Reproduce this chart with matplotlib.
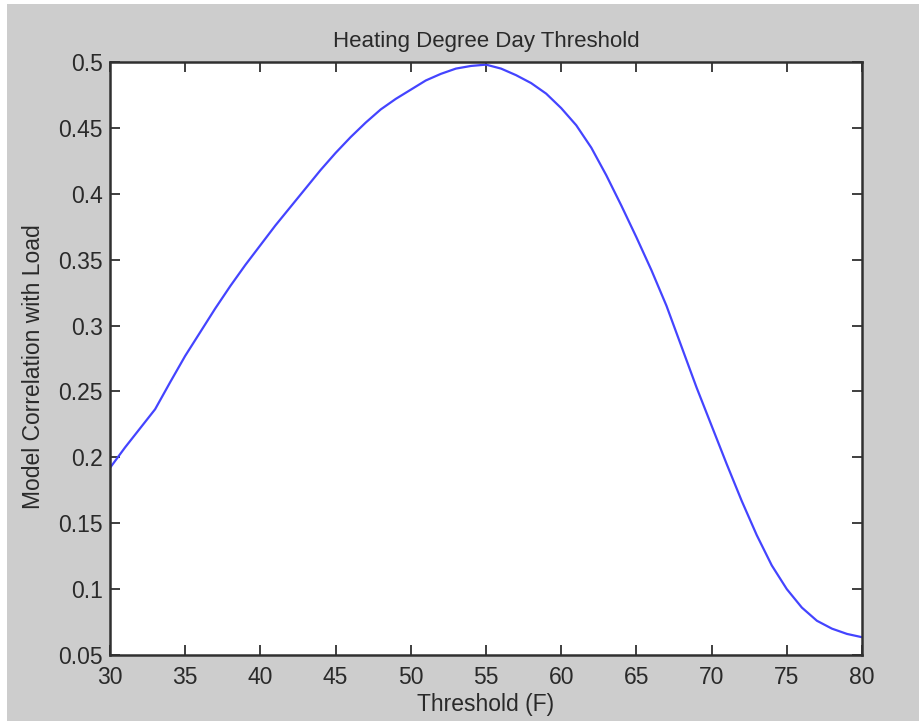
import matplotlib
matplotlib.use("Agg")
import matplotlib.pyplot as plt
from matplotlib.patches import Rectangle

# Degree-day threshold (F) and the resulting model correlation with load
threshold_f = list(range(30, 81))
correlation = [
    0.192, 0.2075, 0.222, 0.2365, 0.257, 0.277, 0.295, 0.313, 0.330, 0.346,
    0.361, 0.376, 0.390, 0.404, 0.418, 0.431, 0.443, 0.454, 0.464, 0.472,
    0.479, 0.486, 0.491, 0.495, 0.497, 0.498, 0.495, 0.490, 0.484, 0.476,
    0.465, 0.452, 0.435, 0.414, 0.391, 0.367, 0.342, 0.315, 0.284, 0.253,
    0.224, 0.195, 0.167, 0.141, 0.118, 0.100, 0.086, 0.076, 0.070, 0.066,
    0.0635,
]

x_ticks = [30, 35, 40, 45, 50, 55, 60, 65, 70, 75, 80]
y_ticks = [0.05, 0.1, 0.15, 0.2, 0.25, 0.3, 0.35, 0.4, 0.45, 0.5]
y_tick_labels = ["0.05", "0.1", "0.15", "0.2", "0.25", "0.3", "0.35", "0.4", "0.45", "0.5"]

plt.rcParams["font.family"] = ["Liberation Sans", "DejaVu Sans"]

W, H = 920, 721
fig = plt.figure(figsize=(W / 100, H / 100), dpi=100, facecolor="white")
# grey window background, leaving a thin light strip on the left and top
fig.patches.append(Rectangle((7 / W, 0), 1 - 7 / W, 1 - 4 / H,
                             transform=fig.transFigure, facecolor="#cdcdcd",
                             edgecolor="none", zorder=-10))

ax = fig.add_axes([110 / W, 1 - 655 / H, (862 - 110) / W, (655 - 62) / H])
ax.set_facecolor("white")

ax.plot(threshold_f, correlation, color="#4444ff", linewidth=1.6)

ax.set_xlim(30, 80)
ax.set_ylim(0.05, 0.5)
ax.set_xticks(x_ticks)
ax.set_yticks(y_ticks)
ax.set_yticklabels(y_tick_labels)

text_color = "#2a2a2a"
for s in ax.spines.values():
    s.set_color("#303030")
    s.set_linewidth(1.8)
ax.tick_params(direction="in", length=7, width=1.3, color="#303030",
               top=True, right=True, labelsize=16.5, labelcolor=text_color)
ax.tick_params(axis="x", pad=8)
ax.tick_params(axis="y", pad=5)

ax.set_title("Heating Degree Day Threshold", fontsize=16, color=text_color, pad=11)
ax.set_xlabel("Threshold (F)", fontsize=16.5, color=text_color, labelpad=3)
ax.set_ylabel("Model Correlation with Load", fontsize=16.5, color=text_color)
ax.yaxis.set_label_coords(-0.087, 0.487)

fig.savefig("out.png", dpi=100, facecolor=fig.get_facecolor())
